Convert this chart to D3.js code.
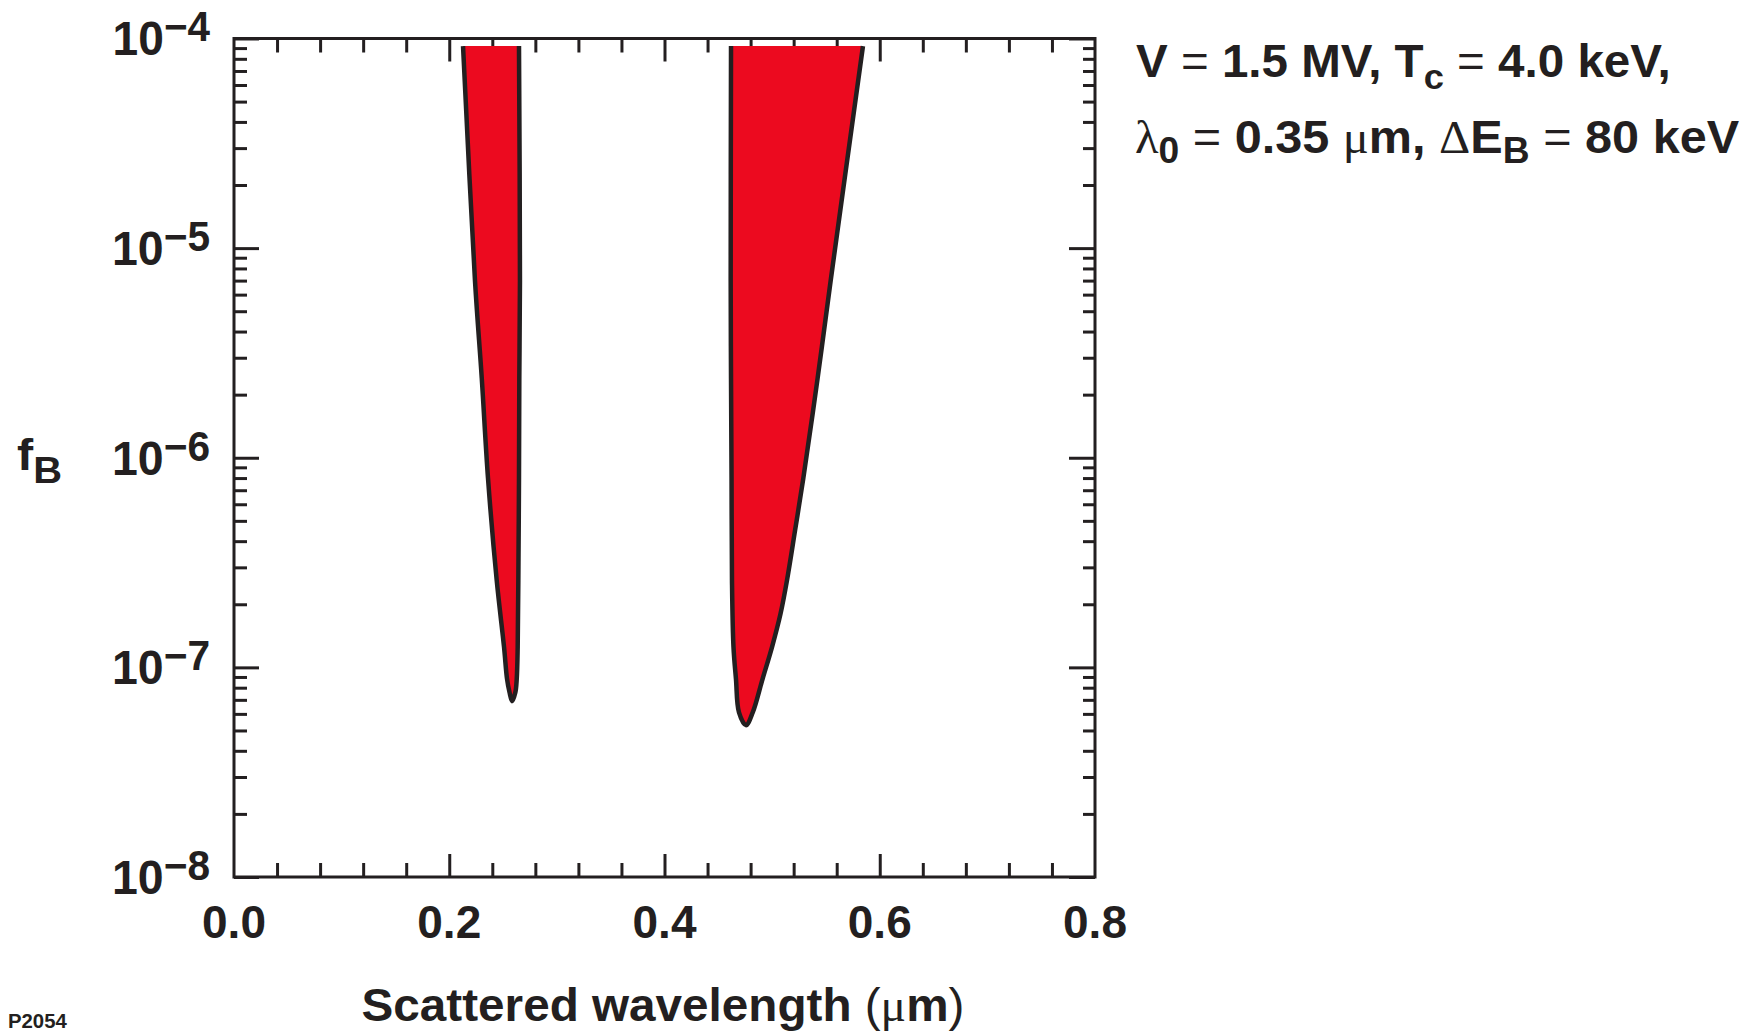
<!DOCTYPE html>
<meta charset="utf-8">
<style>
body { margin: 0; background: #fff; }
svg { display: block; }
text { font-family: "Liberation Sans", Arial, Helvetica, sans-serif; font-weight: bold; fill: #231f20; }
.thin { font-weight: normal; }
.greek { font-family: "Liberation Serif", "DejaVu Serif", serif; font-weight: normal; }
.frame { fill: none; stroke: #231f20; stroke-width: 3px; }
.ticks line { stroke: #231f20; stroke-width: 3px; }
.ticks .domain { display: none; }
.region { fill: #ec0a1f; stroke: #231f20; stroke-width: 4.5px; stroke-linejoin: round; }
</style>
<svg width="1754" height="1032"></svg>
<script src="https://d3js.org/d3.v7.min.js"></script>
<script>
var svg = d3.select("svg");

var box = {left: 234, right: 1095, top: 38.5, bottom: 877};

// axes
var xTicks = [0.0, 0.2, 0.4, 0.6, 0.8];
var xTickLabels = ["0.0", "0.2", "0.4", "0.6", "0.8"];
var yExponents = [-8, -7, -6, -5, -4];

// short-wavelength band: edges as (f_B, lambda in um), top to bottom
var band1LeftF  = [9.2e-5, 7e-6,   2.4e-6, 8e-7,   2.6e-7, 1.25e-7, 8.8e-8, 7.6e-8];
var band1Left   = [0.2128, 0.2239, 0.2302, 0.2360, 0.2441, 0.2509,  0.2537, 0.2560];
var band1RightF = [9.2e-5, 7e-6,   2.4e-6, 8e-7,   2.6e-7, 1.25e-7, 8.8e-8, 7.6e-8];
var band1Right  = [0.2648, 0.2657, 0.2651, 0.2648, 0.2642, 0.2636,  0.2627, 0.2614];
var band1Tip    = [[0.2583, 6.9e-8]];

// long-wavelength band
var band2LeftF  = [9.2e-5, 7e-6,   2.4e-6, 8e-7,   2.6e-7, 1.25e-7, 8.8e-8, 6.1e-8];
var band2Left   = [0.4618, 0.4615, 0.4618, 0.4623, 0.4627, 0.4641,  0.4664, 0.4692];
var band2RightF = [9.2e-5, 7e-6,   2.4e-6, 8e-7,   4.5e-7, 2.6e-7, 1.8e-7, 1.25e-7, 8.8e-8, 6.1e-8];
var band2Right  = [0.5844, 0.5544, 0.5423, 0.5290, 0.5213, 0.5138, 0.5078, 0.4999,  0.4911, 0.4820];
var band2Tip    = [[0.4757, 5.3e-8]];

var x = d3.scaleLinear().domain([0, 0.8]).range([box.left, box.right]);
var y = d3.scaleLog().domain([1e-8, 1e-4]).range([box.bottom, box.top]);

var xMinor = d3.range(1, 20).filter(function(i) { return i % 5; }).map(function(i) { return i * 0.04; });
var yMajor = yExponents.map(function(e) { return Math.pow(10, e); });
var yMinor = [];
yExponents.slice(0, 4).forEach(function(e) {
  d3.range(2, 10).forEach(function(k) { yMinor.push(k * Math.pow(10, e)); });
});

// ticks (all pointing inward)
function tickGroup(axis, tx, ty) {
  svg.append("g").attr("class", "ticks")
      .attr("transform", "translate(" + tx + "," + ty + ")")
      .call(axis);
}
tickGroup(d3.axisBottom(x).tickValues(xMinor).tickSize(-14).tickFormat(""), 0, box.bottom);
tickGroup(d3.axisBottom(x).tickValues(xTicks.slice(1, 4)).tickSize(-23).tickFormat(""), 0, box.bottom);
tickGroup(d3.axisTop(x).tickValues(xMinor).tickSize(-14).tickFormat(""), 0, box.top);
tickGroup(d3.axisTop(x).tickValues(xTicks.slice(1, 4)).tickSize(-23).tickFormat(""), 0, box.top);
tickGroup(d3.axisLeft(y).tickValues(yMinor).tickSize(-13).tickFormat(""), box.left, 0);
tickGroup(d3.axisLeft(y).tickValues(yMajor).tickSize(-25).tickFormat(""), box.left, 0);
tickGroup(d3.axisRight(y).tickValues(yMinor).tickSize(-12).tickFormat(""), box.right, 0);
tickGroup(d3.axisRight(y).tickValues(yMajor).tickSize(-26).tickFormat(""), box.right, 0);

// filled regions
var line = d3.line()
    .x(function(d) { return x(d[0]); })
    .y(function(d) { return y(d[1]); })
    .curve(d3.curveCatmullRom.alpha(0.5));

function outline(lf, left, rf, right, tip) {
  var pts = lf.map(function(f, i) { return [left[i], f]; });
  tip.forEach(function(p) { pts.push(p); });
  for (var i = rf.length - 1; i >= 0; i--) pts.push([right[i], rf[i]]);
  return pts;
}

svg.append("path").attr("class", "region")
    .attr("d", line(outline(band1LeftF, band1Left, band1RightF, band1Right, band1Tip)));
svg.append("path").attr("class", "region")
    .attr("d", line(outline(band2LeftF, band2Left, band2RightF, band2Right, band2Tip)));

svg.append("rect").attr("class", "frame")
    .attr("x", box.left).attr("y", box.top)
    .attr("width", box.right - box.left).attr("height", box.bottom - box.top);

// fit a text element to a measured width by horizontal scaling
function fit(t, w) {
  var bw = t.node().getBBox().width;
  var ax = +t.attr("x"), ay = +t.attr("y");
  t.attr("transform", "translate(" + ax + "," + ay + ") scale(" + (w / bw) + ",1) translate(" + (-ax) + "," + (-ay) + ")");
}

// x tick labels
svg.selectAll(".xlab").data(xTicks).enter().append("text")
    .attr("class", "xlab")
    .attr("x", function(d) { return x(d); })
    .attr("y", 938)
    .attr("text-anchor", "middle")
    .style("font-size", "46px")
    .text(function(d, i) { return xTickLabels[i]; });

// y tick labels
yExponents.forEach(function(e) {
  var t = svg.append("text")
      .attr("x", 210).attr("y", y(Math.pow(10, e)) + 17)
      .attr("text-anchor", "end")
      .style("font-size", "48px");
  t.append("tspan").text("10");
  t.append("tspan").attr("dy", -14).style("font-size", "42px").text("\u2212" + (-e));
  fit(t, 98);
});

// axis titles
var xt = svg.append("text").attr("x", 663).attr("y", 1021)
    .attr("text-anchor", "middle").style("font-size", "46px");
xt.append("tspan").text("Scattered wavelength ");
xt.append("tspan").attr("class", "thin").text("(");
xt.append("tspan").attr("class", "greek").text("\u03bc");
xt.append("tspan").text("m");
xt.append("tspan").attr("class", "thin").text(")");
fit(xt, 603);

var yt = svg.append("text").attr("x", 17).attr("y", 470).style("font-size", "45px");
yt.append("tspan").text("f");
yt.append("tspan").attr("dy", 13).style("font-size", "37px").text("B");
fit(yt, 45);

// parameter annotation
var l1 = svg.append("text").attr("x", 1136).attr("y", 77).style("font-size", "47px");
l1.append("tspan").text("V ");
l1.append("tspan").attr("class", "thin").text("=");
l1.append("tspan").text(" 1.5 MV, T");
l1.append("tspan").attr("dy", 12).style("font-size", "36px").text("c");
l1.append("tspan").attr("dy", -12).text(" ");
l1.append("tspan").attr("class", "thin").text("=");
l1.append("tspan").text(" 4.0 keV,");
fit(l1, 535);

var l2 = svg.append("text").attr("x", 1135).attr("y", 153).style("font-size", "47px");
l2.append("tspan").attr("class", "greek").text("\u03bb");
l2.append("tspan").attr("dy", 10).style("font-size", "36px").text("0");
l2.append("tspan").attr("dy", -10).text(" ");
l2.append("tspan").attr("class", "thin").text("=");
l2.append("tspan").text(" 0.35 ");
l2.append("tspan").attr("class", "greek").text("\u03bc");
l2.append("tspan").text("m, ");
l2.append("tspan").attr("class", "greek").text("\u0394");
l2.append("tspan").text("E");
l2.append("tspan").attr("dy", 10).style("font-size", "36px").text("B");
l2.append("tspan").attr("dy", -10).text(" ");
l2.append("tspan").attr("class", "thin").text("=");
l2.append("tspan").text(" 80 keV");
fit(l2, 605);

var pid = svg.append("text").attr("x", 8).attr("y", 1028).style("font-size", "19.5px").text("P2054");
fit(pid, 59);
</script>
